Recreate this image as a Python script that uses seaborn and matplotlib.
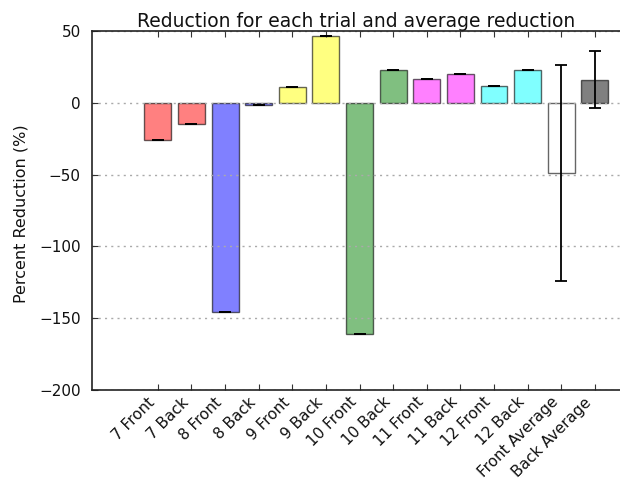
import numpy as np
import pandas as pd
import matplotlib
matplotlib.use("Agg")
import matplotlib.pyplot as plt
import matplotlib.transforms as mtransforms
import seaborn as sns

# Percent reduction per trial, front and back
trials = ["7", "8", "9", "10", "11", "12"]
front_vals = [-26.0, -146.0, 11.0, -161.0, 16.7, 12.1]
back_vals = [-15.0, -1.2, 47.0, 23.2, 20.2, 23.2]

trial_colors = ["#ff8080", "#8080ff", "#ffff80", "#80bf80", "#ff80ff", "#80ffff"]
front_avg_color = "#ffffff"
back_avg_color = "#808080"

# Assemble bar sequence: each trial front/back, then the two averages
labels, values, errs, colors = [], [], [], []
for t, f, b, c in zip(trials, front_vals, back_vals, trial_colors):
    labels += [f"{t} Front", f"{t} Back"]
    values += [f, b]
    errs += [0.0, 0.0]
    colors += [c, c]
labels += ["Front Average", "Back Average"]
values += [float(np.mean(front_vals)), float(np.mean(back_vals))]
errs += [float(np.std(front_vals)), float(np.std(back_vals))]
colors += [front_avg_color, back_avg_color]

df = pd.DataFrame({"label": labels, "value": values})

sns.set_style("white")
plt.rcParams["font.family"] = ["DejaVu Sans"]
plt.rcParams.update({"text.color": "#111111", "axes.labelcolor": "#111111",
                     "xtick.color": "#111111", "ytick.color": "#111111"})

fig = plt.figure(figsize=(6.2, 4.9), dpi=100)
ax = fig.add_axes([92 / 620, 1 - 389.7 / 490, 528 / 620, 358.4 / 490])

sns.barplot(data=df, x="label", y="value", hue="label", order=labels,
            hue_order=labels, palette=colors, legend=False, saturation=1,
            width=0.8, edgecolor=(0, 0, 0, 0.6), linewidth=1.0, ax=ax,
            errorbar=None)

ax.errorbar(np.arange(len(values)), values, yerr=errs, fmt="none",
            ecolor="black", elinewidth=1.3, capsize=4.5, capthick=1.3,
            zorder=3)

ax.set_xlim(-1.96, 13.75)
ax.set_ylim(-200, 50)
ax.set_yticks([-200, -150, -100, -50, 0, 50])
ax.set_axisbelow(False)
ax.yaxis.grid(True, linestyle=(0, (1.5, 3)), color="#aaaaaa", linewidth=1.0)
ax.xaxis.grid(False)

ax.set_title("Reduction for each trial and average reduction", fontsize=13.5,
             pad=3)
ax.set_ylabel("Percent Reduction (%)", fontsize=11.5)
ax.yaxis.set_label_coords(-0.121, 0.49)
ax.set_xlabel("")
ax.set_xticks(np.arange(len(labels)))
ax.set_xticklabels(labels, rotation=45, ha="right", fontsize=11)
shift = mtransforms.ScaledTranslation(4 / 100, -2 / 100, fig.dpi_scale_trans)
for lbl in ax.get_xticklabels():
    lbl.set_transform(lbl.get_transform() + shift)
ax.tick_params(axis="y", labelsize=11, pad=8)
ax.tick_params(axis="both", direction="in", length=4, width=0.8,
               top=True, bottom=True, left=True, right=False, color="#333333")

for side in ["left", "top", "bottom"]:
    ax.spines[side].set_visible(True)
    ax.spines[side].set_color("#222222")
    ax.spines[side].set_linewidth(1.2)
    ax.spines[side].set_zorder(5)
ax.spines["right"].set_visible(False)

fig.savefig("out.png", dpi=100)
